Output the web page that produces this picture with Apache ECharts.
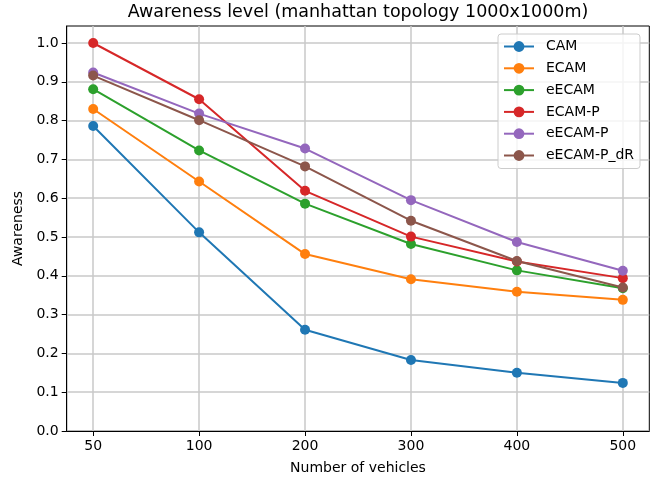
<!DOCTYPE html>
<html>
<head>
<meta charset="utf-8">
<script src="https://cdn.jsdelivr.net/npm/echarts@6/dist/echarts.min.js"></script>
<style>html,body{margin:0;padding:0;background:#fff}#c{width:662px;height:480px}</style>
</head>
<body>
<div id="c"></div>
<script>
var categories = ['50', '100', '200', '300', '400', '500'];
var seriesNames = ['CAM', 'ECAM', 'eECAM', 'ECAM-P', 'eECAM-P', 'eECAM-P_dR'];
var CAM = [0.786, 0.512, 0.261, 0.183, 0.150, 0.124];
var ECAM = [0.830, 0.643, 0.456, 0.391, 0.359, 0.338];
var eECAM = [0.881, 0.723, 0.586, 0.482, 0.414, 0.368];
var ECAM_P = [1.000, 0.855, 0.619, 0.501, 0.437, 0.394];
var eECAM_P = [0.924, 0.818, 0.728, 0.595, 0.487, 0.413];
var eECAM_P_dR = [0.916, 0.801, 0.682, 0.542, 0.438, 0.370];
var yTicks = [0, 0.1, 0.2, 0.3, 0.4, 0.5, 0.6, 0.7, 0.8, 0.9, 1.0];
var colors = ['#1f77b4', '#ff7f0e', '#2ca02c', '#d62728', '#9467bd', '#8c564b'];
var allValues = [CAM, ECAM, eECAM, ECAM_P, eECAM_P, eECAM_P_dR];

var xTicks = categories.map(function (c, i) { return i; });
var font = 'DejaVu Sans';

var chart = echarts.init(document.getElementById('c'), null, { renderer: 'canvas' });
chart.setOption({
  animation: false,
  color: colors,
  graphic: [{
    type: 'text', x: 358, y: 3,
    style: { text: 'Awareness level (manhattan topology 1000x1000m)', font: '17.5px "DejaVu Sans"', fill: '#000', textAlign: 'center', textVerticalAlign: 'top' }
  }],
  grid: { left: 66.7, right: 12.7, top: 26, bottom: 47.7, show: true, borderColor: '#000', borderWidth: 1, containLabel: false },
  legend: {
    orient: 'vertical', left: 498, top: 34,
    padding: [5.5, 6, 6, 5],
    itemWidth: 30, itemHeight: 13.5, itemGap: 7.8,
    backgroundColor: 'rgba(255,255,255,0.8)', borderColor: '#cccccc', borderWidth: 1, borderRadius: 3,
    textStyle: { fontFamily: font, fontSize: 14, color: '#000', lineHeight: 13.5, padding: [0, 0, 0, 7] },
    data: seriesNames.map(function (n) { return { name: n, itemStyle: {}, lineStyle: { width: 2 } }; })
  },
  xAxis: {
    type: 'value', min: -0.25, max: 5.25,
    name: 'Number of vehicles', nameLocation: 'middle', nameGap: 30,
    nameTextStyle: { fontFamily: font, fontSize: 14, color: '#000' },
    axisLine: { show: true, onZero: false, lineStyle: { color: '#000', width: 1 } },
    axisTick: { show: true, length: 5, lineStyle: { color: '#000' }, customValues: xTicks },
    axisLabel: { fontFamily: font, fontSize: 14, color: '#000', margin: 8, customValues: xTicks,
      formatter: function (v) { return categories[Math.round(v)]; } },
    splitLine: { show: true, lineStyle: { color: '#c8c8c8', width: 1.5 } }
  },
  yAxis: {
    type: 'value', min: 0, max: 1.0438,
    name: 'Awareness', nameLocation: 'middle', nameGap: 40, nameRotate: 90,
    nameTextStyle: { fontFamily: font, fontSize: 14, color: '#000' },
    axisLine: { show: true, onZero: false, lineStyle: { color: '#000', width: 1 } },
    axisTick: { show: true, length: 5, lineStyle: { color: '#000' }, customValues: yTicks },
    axisLabel: { fontFamily: font, fontSize: 14, color: '#000', margin: 8, customValues: yTicks,
      formatter: function (v) { return v.toFixed(1); } },
    splitLine: { show: true, lineStyle: { color: '#c8c8c8', width: 1.5 } }
  },
  series: seriesNames.map(function (n, k) {
    return {
      name: n, type: 'line', symbol: 'circle', symbolSize: 10,
      lineStyle: { width: 2, color: colors[k] },
      itemStyle: { color: colors[k], borderWidth: 0 },
      data: allValues[k].map(function (v, i) { return [i, v]; })
    };
  })
});
</script>
</body>
</html>
